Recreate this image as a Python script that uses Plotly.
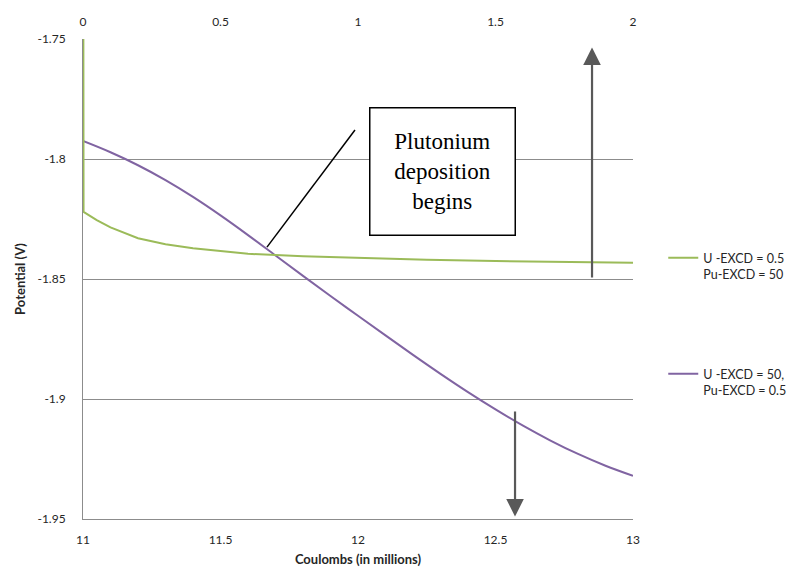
import plotly.graph_objects as go

# Purple series: U-EXCD = 50, Pu-EXCD = 0.5 (bottom axis, Coulombs in millions)
coulombs_purple = [11.00, 11.10, 11.20, 11.30, 11.40, 11.50, 11.60, 11.70, 11.80, 11.90,
                   12.00, 12.10, 12.20, 12.30, 12.40, 12.50, 12.60, 12.70, 12.80, 12.90, 13.00]
potential_purple = [-1.7925, -1.7972, -1.8026, -1.8088, -1.8158, -1.8235, -1.8317, -1.8402,
                    -1.8487, -1.8571, -1.8653, -1.8735, -1.8816, -1.8895, -1.8971, -1.9043,
                    -1.9111, -1.9173, -1.9229, -1.9278, -1.9320]

# Green series: U-EXCD = 0.5, Pu-EXCD = 50 (top axis)
coulombs_green = [0.000, 0.002, 0.05, 0.10, 0.20, 0.30, 0.40, 0.50, 0.60, 0.80,
                  1.00, 1.25, 1.50, 1.75, 2.00]
potential_green = [-1.60, -1.822, -1.8255, -1.8285, -1.8330, -1.8355, -1.8372, -1.8385,
                   -1.8395, -1.8405, -1.8413, -1.8420, -1.8425, -1.8430, -1.8432]

bottom_ticks = [11, 11.5, 12, 12.5, 13]
bottom_labels = ["11", "11.5", "12", "12.5", "13"]
top_ticks = [0, 0.5, 1, 1.5, 2]
top_labels = ["0", "0.5", "1", "1.5", "2"]
y_ticks = [-1.75, -1.8, -1.85, -1.9, -1.95]
y_labels = ["-1.75", "-1.8", "-1.85", "-1.9", "-1.95"]

GREEN = "#9BBB59"
PURPLE = "#8064A2"
GRID = "#8c8c8c"
ARROW = "#595959"
SANS = "Lato"

fig = go.Figure()

fig.add_trace(go.Scatter(
    x=coulombs_green, y=potential_green, xaxis="x2", mode="lines",
    line=dict(color=GREEN, width=2),
    name="U -EXCD = 0.5<br>Pu-EXCD = 50", legend="legend",
))
fig.add_trace(go.Scatter(
    x=coulombs_purple, y=potential_purple, mode="lines",
    line=dict(color=PURPLE, width=2, shape="spline"),
    name="U -EXCD = 50,<br>Pu-EXCD = 0.5", legend="legend2",
))

# Callout box and its pointer line
fig.add_annotation(
    x=12.309, y=-1.8054, xref="x", yref="y", showarrow=False,
    text="Plutonium<br>deposition<br>begins",
    font=dict(family="Liberation Serif", size=23, color="black"),
    bordercolor="black", borderwidth=1.5, borderpad=4, bgcolor="white",
    width=136, height=118, align="center",
)
fig.add_shape(type="line", xref="x", yref="y",
              x0=11.989, y0=-1.7879, x1=11.669, y1=-1.8367,
              line=dict(color="black", width=1.5))

# Direction arrows
fig.add_annotation(x=12.851, y=-1.7535, ax=12.851, ay=-1.850, xref="x", yref="y",
                   axref="x", ayref="y", text="", showarrow=True, arrowhead=2,
                   arrowsize=1.6, arrowwidth=2.2, arrowcolor=ARROW)
fig.add_annotation(x=12.571, y=-1.949, ax=12.571, ay=-1.9046, xref="x", yref="y",
                   axref="x", ayref="y", text="", showarrow=True, arrowhead=2,
                   arrowsize=1.6, arrowwidth=2.2, arrowcolor=ARROW)

tick_font = dict(family=SANS, size=12, color="#262626")
title_font = dict(family=SANS, size=13, color="#262626")
legend_font = dict(family=SANS, size=12.5, color="#262626")

fig.update_layout(
    width=794, height=576,
    margin=dict(l=83, r=161, t=39, b=57, autoexpand=False),
    paper_bgcolor="white", plot_bgcolor="white",
    xaxis=dict(range=[11, 13], tickvals=bottom_ticks, ticktext=bottom_labels,
               showgrid=False, zeroline=False, showline=True, linecolor=GRID,
               linewidth=1, ticks="", tickfont=tick_font, ticklabelstandoff=10,
               title=dict(text="<b>Coulombs (in millions)</b>", font=title_font, standoff=8)),
    xaxis2=dict(range=[0, 2], tickvals=top_ticks, ticktext=top_labels, overlaying="x",
                side="top", showgrid=False, zeroline=False, showline=False,
                ticks="", tickfont=tick_font, ticklabelstandoff=10),
    yaxis=dict(range=[-1.95, -1.75], tickvals=y_ticks, ticktext=y_labels,
               showgrid=True, gridcolor=GRID, gridwidth=1, zeroline=False,
               showline=True, linecolor=GRID, linewidth=1, ticks="",
               tickfont=tick_font, ticklabelstandoff=14,
               title=dict(text="<b>Potential (V)</b>", font=title_font, standoff=8)),
    legend=dict(x=1.055, y=0.575, xanchor="left", yanchor="top", valign="top",
                font=legend_font, bgcolor="rgba(0,0,0,0)", itemwidth=30),
    legend2=dict(x=1.055, y=0.333, xanchor="left", yanchor="top", valign="top",
                 font=legend_font, bgcolor="rgba(0,0,0,0)", itemwidth=30),
    showlegend=True,
)

fig.write_html("out.html")
